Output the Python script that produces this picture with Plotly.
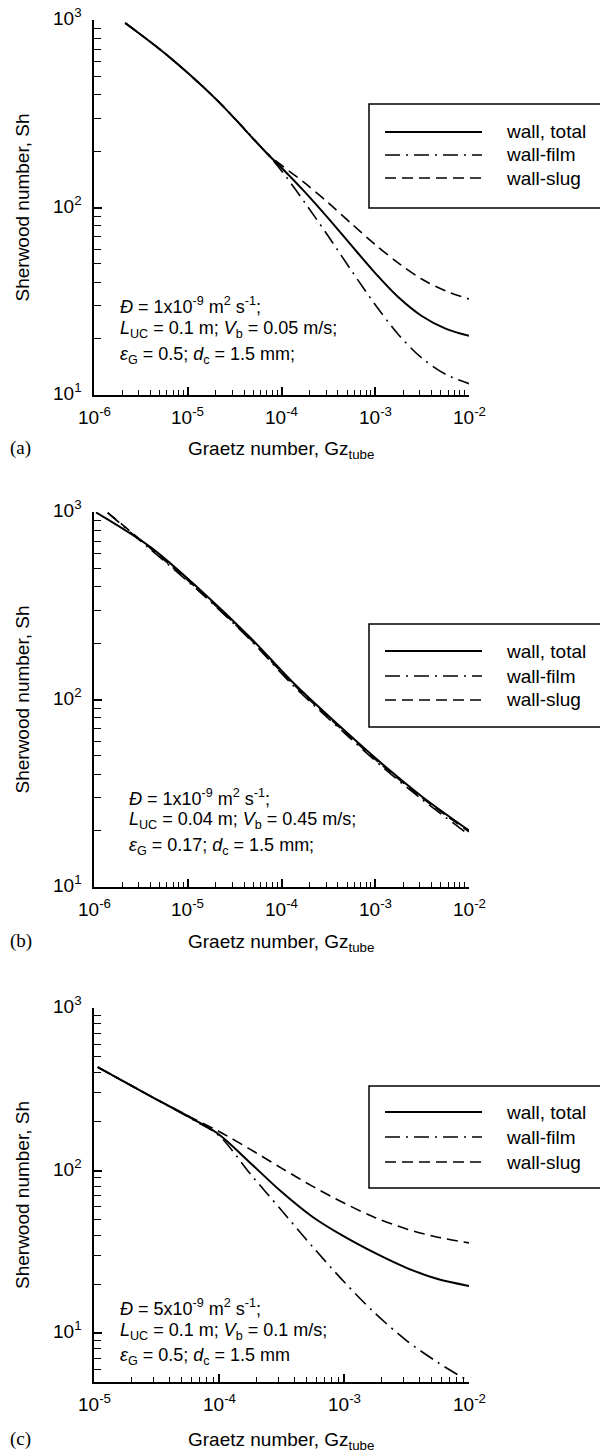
import math
import plotly.graph_objects as go

# ---------------- data ----------------
# Panel (a)
a_total_gz = [2.15e-6, 6e-6, 2.05e-5, 7e-5, 1e-4, 1.78e-4, 3.16e-4, 5.62e-4, 1e-3, 1.78e-3, 3.16e-3, 5.62e-3, 1e-2]
a_total = [964, 650, 374, 194, 163, 120.8, 87.5, 62.4, 44.7, 33.1, 26.3, 22.6, 20.7]
a_film_gz = [2.15e-6, 6e-6, 2.05e-5, 7e-5, 1e-4, 1.78e-4, 3.16e-4, 5.62e-4, 1e-3, 1.78e-3, 3.16e-3, 5.62e-3, 1e-2]
a_film = [964, 650, 374, 194, 157, 106, 70.2, 45.8, 30.3, 20.9, 15.7, 12.9, 11.5]
a_slug_gz = [2.15e-6, 6e-6, 2.05e-5, 7e-5, 1e-4, 1.78e-4, 3.16e-4, 5.62e-4, 1e-3, 1.78e-3, 3.16e-3, 5.62e-3, 1e-2]
a_slug = [964, 650, 374, 195, 168, 134.9, 105.9, 81.7, 63.4, 50.4, 41.4, 35.9, 32.5]

# Panel (b)
b_total_gz = [1.05e-6, 4e-6, 1.36e-5, 4.6e-5, 1.35e-4, 4.9e-4, 1.27e-3, 3.24e-3, 1e-2]
b_total = [995, 650, 384, 215, 122, 67, 44, 30, 20]
b_film_gz = [1.4e-6, 4e-6, 1.36e-5, 4.6e-5, 1.35e-4, 4.9e-4, 1.27e-3, 3.24e-3, 1e-2]
b_film = [990, 632, 373, 209, 118, 65, 42.5, 29, 19]
b_slug_gz = [1.4e-6, 4e-6, 1.36e-5, 4.6e-5, 1.35e-4, 4.9e-4, 1.27e-3, 3.24e-3, 1e-2]
b_slug = [993, 640, 377, 211, 120, 66, 43.3, 29.6, 19.7]

# Panel (c)
c_total_gz = [1.07e-5, 2.85e-5, 6.3e-5, 1e-4, 1.78e-4, 3.16e-4, 5.62e-4, 1e-3, 1.78e-3, 3.16e-3, 5.62e-3, 1e-2]
c_total = [433, 286, 206, 166.7, 111.4, 74.0, 51.8, 39.3, 31.0, 25.2, 21.5, 19.5]
c_film_gz = [1.07e-5, 2.85e-5, 6.3e-5, 1e-4, 1.78e-4, 3.16e-4, 5.62e-4, 1e-3, 1.78e-3, 3.16e-3, 5.62e-3, 1e-2]
c_film = [433, 286, 204, 164, 95.5, 56.9, 33.9, 20.7, 13.2, 9.0, 6.6, 5.05]
c_slug_gz = [1.07e-5, 2.85e-5, 6.3e-5, 1e-4, 1.78e-4, 3.16e-4, 5.62e-4, 1e-3, 1.78e-3, 3.16e-3, 5.62e-3, 1e-2]
c_slug = [433, 286, 208, 174, 135, 103.5, 79.9, 63.1, 51.3, 43.7, 38.9, 35.9]

series_names = ["wall, total", "wall-film", "wall-slug"]

x_ticks_ab = [1e-6, 1e-5, 1e-4, 1e-3, 1e-2]
x_ticktext_ab = ["10<sup>-6</sup>", "10<sup>-5</sup>", "10<sup>-4</sup>", "10<sup>-3</sup>", "10<sup>-2</sup>"]
x_ticks_c = [1e-5, 1e-4, 1e-3, 1e-2]
x_ticktext_c = ["10<sup>-5</sup>", "10<sup>-4</sup>", "10<sup>-3</sup>", "10<sup>-2</sup>"]
y_ticks = [10, 100, 1000]
y_ticktext = ["10<sup>1</sup>", "10<sup>2</sup>", "10<sup>3</sup>"]

texts_a = ["<i>Đ</i> = 1x10<sup>-9</sup> m<sup>2</sup> s<sup>-1</sup>;",
           "<i>L</i><sub>UC</sub> = 0.1 m; <i>V</i><sub>b</sub> = 0.05 m/s;",
           "<i>ε</i><sub>G</sub> = 0.5; <i>d</i><sub>c</sub> = 1.5 mm;"]
texts_b = ["<i>Đ</i> = 1x10<sup>-9</sup> m<sup>2</sup> s<sup>-1</sup>;",
           "<i>L</i><sub>UC</sub> = 0.04 m; <i>V</i><sub>b</sub> = 0.45 m/s;",
           "<i>ε</i><sub>G</sub> = 0.17; <i>d</i><sub>c</sub> = 1.5 mm;"]
texts_c = ["<i>Đ</i> = 5x10<sup>-9</sup> m<sup>2</sup> s<sup>-1</sup>;",
           "<i>L</i><sub>UC</sub> = 0.1 m; <i>V</i><sub>b</sub> = 0.1 m/s;",
           "<i>ε</i><sub>G</sub> = 0.5; <i>d</i><sub>c</sub> = 1.5 mm"]

# ---------------- layout helpers ----------------
W, H = 600, 1453
def fx(px):
    return px / W
def fy(py):
    return 1 - py / H

FONT = "Liberation Sans, Arial, sans-serif"
SERIF = "Liberation Serif, Times New Roman, serif"
DASHDOT = "15px,6px,2px,6px"
DASH = "11px,6px"
styles = [dict(color="black", width=2, dash="solid"),
          dict(color="black", width=1.6, dash=DASHDOT),
          dict(color="black", width=1.6, dash=DASH)]
AX_LEFT, AX_RIGHT = 94, 469

fig = go.Figure()

panels = [
    dict(sfx="", xs=[a_total_gz, a_film_gz, a_slug_gz], ys=[a_total, a_film, a_slug],
         top=20, bot=395, xr=(-6, -2), yr=(1, 3), xt=(x_ticks_ab, x_ticktext_ab),
         texts=texts_a, text_x=118, text_y=[305, 330, 355],
         leg=dict(top=104, bot=208, rows=[132, 155, 178]), label="(a)", xtitle_y=450),
    dict(sfx="2", xs=[b_total_gz, b_film_gz, b_slug_gz], ys=[b_total, b_film, b_slug],
         top=512, bot=887, xr=(-6, -2), yr=(1, 3), xt=(x_ticks_ab, x_ticktext_ab),
         texts=texts_b, text_x=127, text_y=[797, 821, 846],
         leg=dict(top=624, bot=727, rows=[651, 676, 700]), label="(b)", xtitle_y=943),
    dict(sfx="3", xs=[c_total_gz, c_film_gz, c_slug_gz], ys=[c_total, c_film, c_slug],
         top=1008, bot=1382, xr=(-5, -2), yr=(0.69897, 3), xt=(x_ticks_c, x_ticktext_c),
         texts=texts_c, text_x=118, text_y=[1307, 1331, 1356],
         leg=dict(top=1086, bot=1188, rows=[1112, 1137, 1162]), label="(c)", xtitle_y=1441),
]

annotations = []
shapes = []
TICKFONT = dict(family=FONT, size=19, color="black")
for p in panels:
    xa = "x" + p["sfx"]
    ya = "y" + p["sfx"]
    for xs, ys, st, nm in zip(p["xs"], p["ys"], styles, series_names):
        fig.add_trace(go.Scatter(x=xs, y=ys, mode="lines", name=nm, xaxis=xa, yaxis=ya,
                                 line=dict(shape="spline", smoothing=0.9, **st),
                                 showlegend=False, hoverinfo="skip"))
    xkey = "xaxis" + p["sfx"]
    ykey = "yaxis" + p["sfx"]
    fig.update_layout(**{
        xkey: dict(type="log", domain=[fx(AX_LEFT), fx(AX_RIGHT)], range=list(p["xr"]), anchor=ya,
                   showline=True, linecolor="black", linewidth=2, showgrid=False,
                   zeroline=False, mirror=False, showticklabels=False,
                   tickmode="array", tickvals=p["xt"][0],
                   ticks="inside", ticklen=8, tickwidth=1.5, tickcolor="black",
                   minor=dict(dtick="D1", ticks="inside", ticklen=5, tickwidth=1.2,
                              tickcolor="black", showgrid=False)),
        ykey: dict(type="log", domain=[fy(p["bot"]), fy(p["top"])], range=list(p["yr"]),
                   anchor=xa,
                   showline=True, linecolor="black", linewidth=2, showgrid=False,
                   zeroline=False, mirror=False, showticklabels=False,
                   tickmode="array", tickvals=y_ticks,
                   ticks="inside", ticklen=8, tickwidth=1.5, tickcolor="black",
                   minor=dict(dtick="D1", ticks="inside", ticklen=7, tickwidth=1.2,
                              tickcolor="black", showgrid=False)),
    })
    # tick labels placed on the axis scale
    for v, t in zip(p["xt"][0], p["xt"][1]):
        annotations.append(dict(text=t, x=math.log10(v), xref=xa, y=fy(p["bot"] + 21), yref="paper",
                                xanchor="center", yanchor="middle", showarrow=False,
                                font=TICKFONT))
    for v, t in zip(y_ticks, y_ticktext):
        annotations.append(dict(text=t, x=fx(AX_LEFT - 10), xref="paper", y=math.log10(v), yref=ya,
                                xanchor="right", yanchor="middle", yshift=3, showarrow=False,
                                font=TICKFONT))
    # parameter text
    for t, ty in zip(p["texts"], p["text_y"]):
        annotations.append(dict(text=t, x=fx(p["text_x"]), y=fy(ty), xref="paper", yref="paper",
                                xanchor="left", yanchor="middle", showarrow=False,
                                font=dict(family=FONT, size=18, color="black")))
    # axis titles
    annotations.append(dict(text="Sherwood number, Sh", x=fx(22), y=fy((p["top"] + p["bot"]) / 2),
                            xref="paper", yref="paper", textangle=-90, showarrow=False,
                            xanchor="center", yanchor="middle",
                            font=dict(family=FONT, size=19, color="black")))
    annotations.append(dict(text="Graetz number, Gz<sub>tube</sub>", x=fx(281), y=fy(p["xtitle_y"]),
                            xref="paper", yref="paper", showarrow=False,
                            xanchor="center", yanchor="middle",
                            font=dict(family=FONT, size=19, color="black")))
    annotations.append(dict(text=p["label"], x=fx(8), y=fy(p["xtitle_y"] - 2),
                            xref="paper", yref="paper", showarrow=False,
                            xanchor="left", yanchor="middle",
                            font=dict(family=SERIF, size=19, color="black")))
    # legend box
    lg = p["leg"]
    shapes.append(dict(type="rect", xref="paper", yref="paper", x0=fx(369), x1=fx(612),
                       y0=fy(lg["bot"]), y1=fy(lg["top"]), line=dict(color="black", width=1.5)))
    for row, st, nm in zip(lg["rows"], styles, series_names):
        shapes.append(dict(type="line", xref="paper", yref="paper", x0=fx(385), x1=fx(482),
                           y0=fy(row), y1=fy(row), line=dict(color=st["color"], width=st["width"],
                                                            dash=st["dash"])))
        annotations.append(dict(text=nm, x=fx(504), y=fy(row), xref="paper", yref="paper",
                                xanchor="left", yanchor="middle", showarrow=False,
                                font=dict(family=FONT, size=19, color="black")))

fig.update_layout(width=W, height=H, margin=dict(l=0, r=0, t=0, b=0),
                  paper_bgcolor="white", plot_bgcolor="white",
                  annotations=annotations, shapes=shapes, showlegend=False)

fig.write_html("out.html")
